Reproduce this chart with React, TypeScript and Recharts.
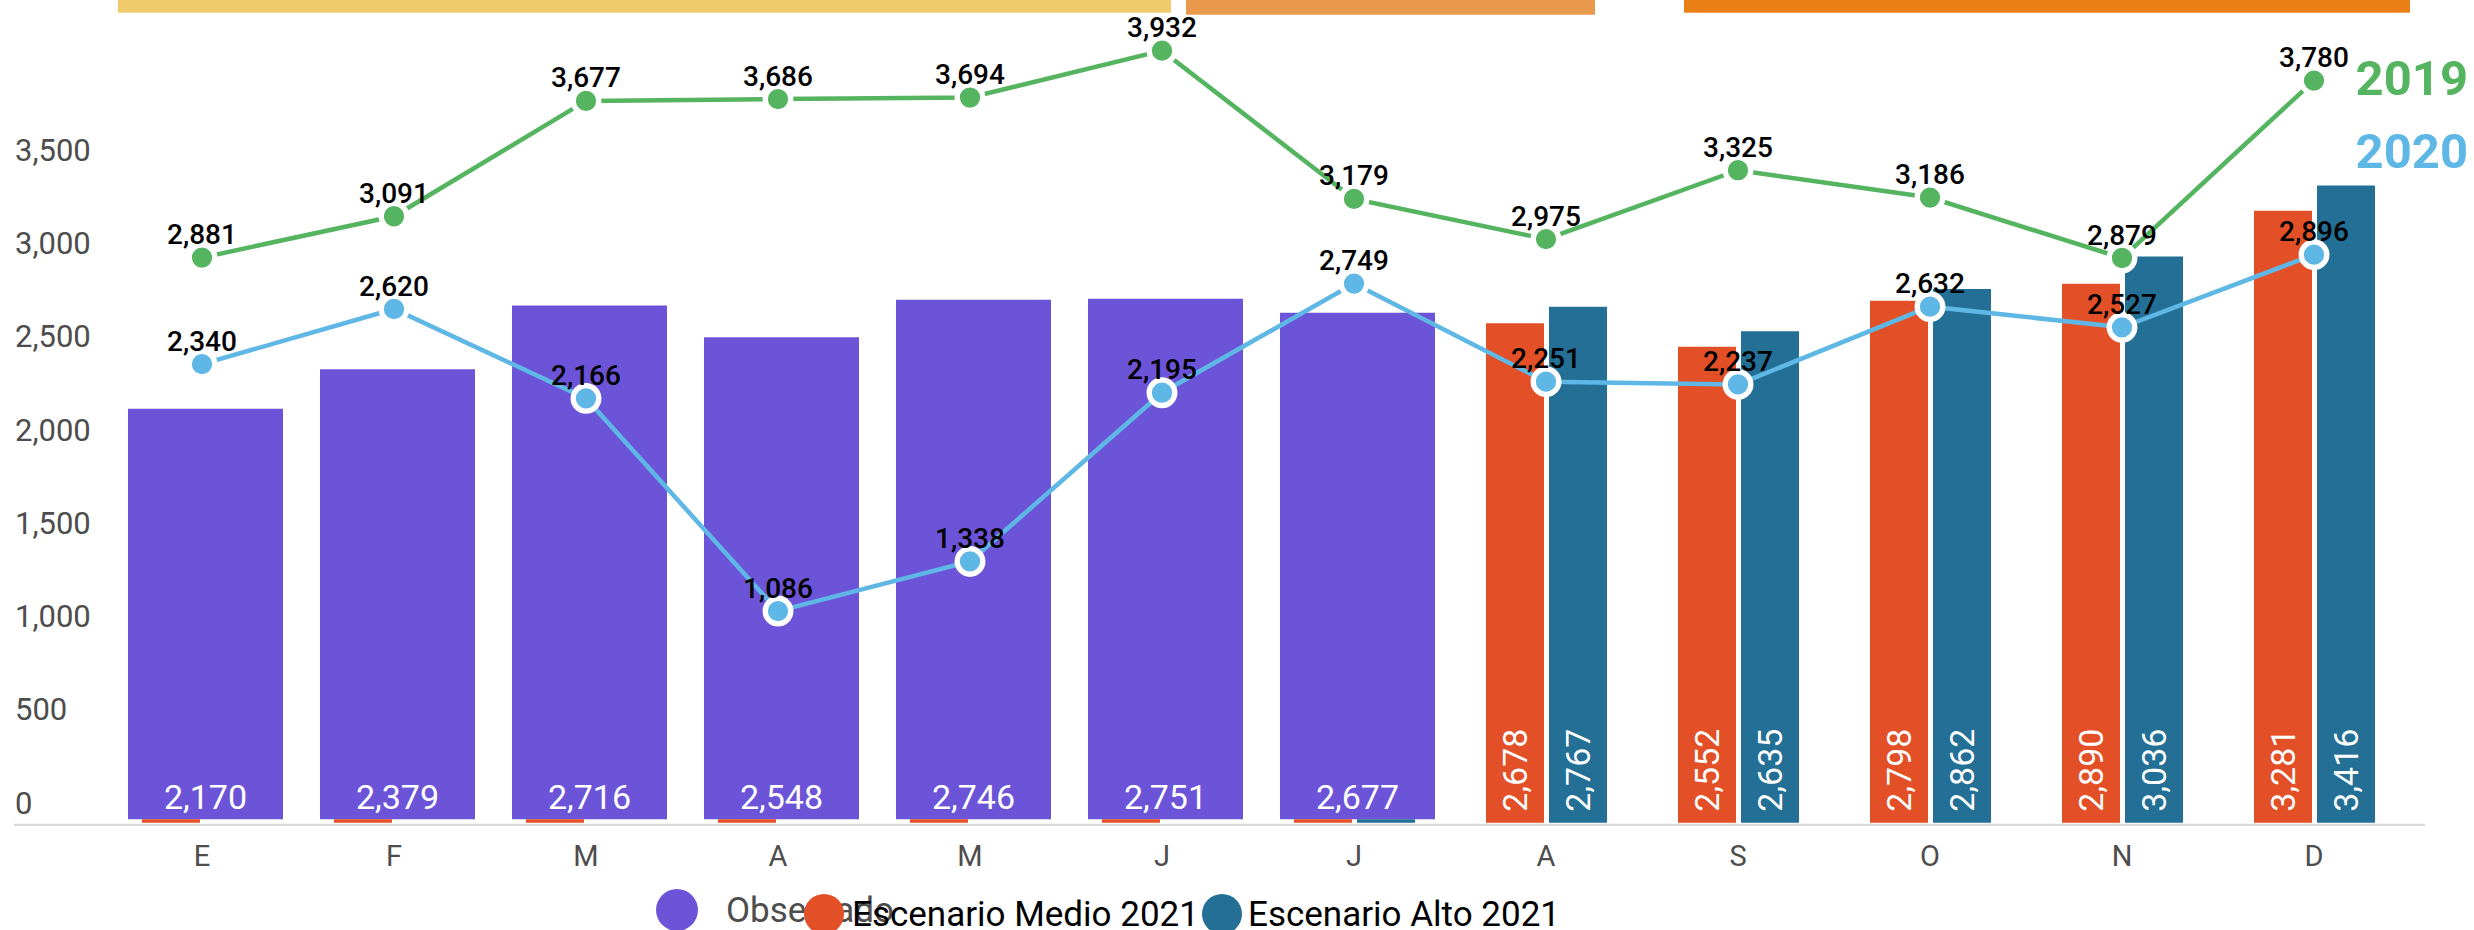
import React from 'react';
import { ComposedChart, Bar, Line, XAxis, YAxis, LabelList, ReferenceLine } from 'recharts';

// monthly values, Spanish month initials
const months = ['E', 'F', 'M', 'A', 'M', 'J', 'J', 'A', 'S', 'O', 'N', 'D'];
const observado = [2170, 2379, 2716, 2548, 2746, 2751, 2677, null, null, null, null, null];
const medio2021 = [18, 18, 18, 18, 18, 18, 18, 2678, 2552, 2798, 2890, 3281];
const alto2021 = [0, 0, 0, 0, 0, 0, 18, 2767, 2635, 2862, 3036, 3416];
const serie2019 = [2881, 3091, 3677, 3686, 3694, 3932, 3179, 2975, 3325, 3186, 2879, 3780];
const serie2020 = [2340, 2620, 2166, 1086, 1338, 2195, 2749, 2251, 2237, 2632, 2527, 2896];
const yTicks = [0, 500, 1000, 1500, 2000, 2500, 3000, 3500];

const data = months.map((mes, i) => ({
  mes,
  observado: observado[i],
  medio: medio2021[i],
  alto: alto2021[i],
  y2019: serie2019[i],
  y2020: serie2020[i],
}));

const FONT = 'Roboto, sans-serif';
const COLORS = {
  obs: '#6c54d8',
  medio: '#e34f26',
  alto: '#236f96',
  y2019: '#55b460',
  y2020: '#5eb7e5',
  axis: '#d9d9d9',
  tick: '#4d4d4d',
};

const fmt = (v: number) => v.toLocaleString('en-US');

const box = (p: any) => {
  const vb = p.viewBox ?? {};
  return {
    x: vb.x ?? p.x ?? 0,
    y: vb.y ?? p.y ?? 0,
    width: vb.width ?? p.width ?? 0,
    height: vb.height ?? p.height ?? 0,
  };
};

function ObsLabel(props: any) {
  if (props.value == null) return null;
  const { x, y, width, height } = box(props);
  return (
    <text x={x + width / 2} y={y + height - 10} textAnchor="middle" fill="#fff" fontSize={34} fontFamily={FONT}>
      {fmt(props.value)}
    </text>
  );
}

function ScenarioLabel(props: any) {
  if (props.value == null || props.value < 100) return null;
  const { x, y, width, height } = box(props);
  const cx = x + width / 2 + 12;
  const by = y + height - 11;
  return (
    <text transform={`translate(${cx},${by}) rotate(-90)`} fill="#fff" fontSize={34} fontFamily={FONT}>
      {fmt(props.value)}
    </text>
  );
}

function PointLabel(props: any) {
  if (props.value == null) return null;
  const { x, y, width, height } = box(props);
  return (
    <text x={x + width / 2} y={y + height / 2 - 13.5} textAnchor="middle" fill="#000" fontSize={28} fontWeight={500} fontFamily={FONT}>
      {fmt(props.value)}
    </text>
  );
}

function YTick(props: any) {
  return (
    <text x={15} y={props.y - 9} textAnchor="start" fill={COLORS.tick} fontSize={31} fontFamily={FONT}>
      {fmt(props.payload.value)}
    </text>
  );
}

const legendItems = [
  { name: 'Observado', color: COLORS.obs, text: COLORS.tick },
  { name: 'Escenario Medio 2021', color: COLORS.medio, text: '#000' },
  { name: 'Escenario Alto 2021', color: COLORS.alto, text: '#000' },
];

export default function App() {
  const dot = (c: string) => ({ r: 12.8, fill: c, stroke: '#fff', strokeWidth: 5.3 });
  // legend items overlap in the original, keep their spots
  const legendSpots = [
    { cx: 677, cy: 910, r: 21, tx: 726, ty: 922 },
    { cx: 824, cy: 914, r: 20, tx: 852, ty: 926 },
    { cx: 1222, cy: 914, r: 20, tx: 1248, ty: 926 },
  ];

  return (
    <div style={{ position: 'absolute', left: 0, top: 0, width: 2474, height: 930, overflow: 'hidden', background: '#fff', fontFamily: FONT }}>
      <ComposedChart
        width={2474}
        height={930}
        data={data}
        margin={{ top: 20, right: 49, bottom: 67.3, left: 14 }}
        barGap={5}
      >
        <XAxis
          xAxisId="main"
          dataKey="mes"
          padding={{ left: 92, right: 15 }}
          axisLine={false}
          tickLine={false}
          tickSize={0}
          tickMargin={23}
          height={40}
          interval={0}
          tick={{ fill: COLORS.tick, fontSize: 29, fontFamily: FONT }}
        />
        <XAxis xAxisId="obs" dataKey="mes" hide padding={{ left: 95, right: 12 }} />
        <YAxis
          yAxisId="bar"
          domain={[0, 4304]}
          ticks={yTicks}
          interval={0}
          mirror
          axisLine={false}
          tickLine={false}
          tick={YTick}
        />
        <YAxis yAxisId="obs" hide domain={[-18, 4224.6]} />
        <YAxis yAxisId="line" hide domain={[11.2, 4087.8]} />

        <Bar xAxisId="obs" yAxisId="obs" dataKey="observado" fill={COLORS.obs} barSize={155} isAnimationActive={false}>
          <LabelList dataKey="observado" content={ObsLabel} />
        </Bar>
        <Bar xAxisId="main" yAxisId="bar" dataKey="medio" fill={COLORS.medio} barSize={58} isAnimationActive={false}>
          <LabelList dataKey="medio" content={ScenarioLabel} />
        </Bar>
        <Bar xAxisId="main" yAxisId="bar" dataKey="alto" fill={COLORS.alto} barSize={58} isAnimationActive={false}>
          <LabelList dataKey="alto" content={ScenarioLabel} />
        </Bar>

        <ReferenceLine xAxisId="main" yAxisId="line" y={0} ifOverflow="visible" stroke={COLORS.axis} strokeWidth={2.4} />

        <Line
          xAxisId="main"
          yAxisId="line"
          dataKey="y2019"
          stroke={COLORS.y2019}
          strokeWidth={4.5}
          dot={dot(COLORS.y2019)}
          activeDot={false}
          isAnimationActive={false}
        >
          <LabelList dataKey="y2019" content={PointLabel} />
        </Line>
        <Line
          xAxisId="main"
          yAxisId="line"
          dataKey="y2020"
          stroke={COLORS.y2020}
          strokeWidth={4.5}
          dot={dot(COLORS.y2020)}
          activeDot={false}
          isAnimationActive={false}
        >
          <LabelList dataKey="y2020" content={PointLabel} />
        </Line>
      </ComposedChart>

      <svg width={2474} height={930} style={{ position: 'absolute', left: 0, top: 0, pointerEvents: 'none' }}>
        <rect x={118} y={0} width={1053} height={12.7} fill="#efcb6b" />
        <rect x={1186} y={0} width={409} height={14.7} fill="#e8994b" />
        <rect x={1684} y={0} width={726} height={12.7} fill="#ea7f16" />

        <text x={2468} y={95} textAnchor="end" fill={COLORS.y2019} fontSize={49} fontWeight={700} fontFamily={FONT}>2019</text>
        <text x={2468} y={168} textAnchor="end" fill={COLORS.y2020} fontSize={49} fontWeight={700} fontFamily={FONT}>2020</text>

        {legendItems.map((it, i) => {
          const s = legendSpots[i];
          return (
            <g key={it.name}>
              <circle cx={s.cx} cy={s.cy} r={s.r} fill={it.color} />
              <text x={s.tx} y={s.ty} fill={it.text} fontSize={35} fontFamily={FONT}>{it.name}</text>
            </g>
          );
        })}
      </svg>
    </div>
  );
}
